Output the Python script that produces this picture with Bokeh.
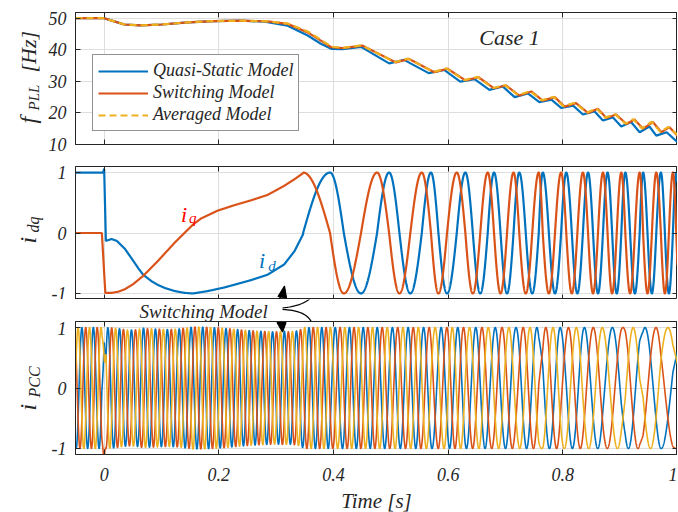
import numpy as np
from bokeh.plotting import figure
from bokeh.layouts import column, row
from bokeh.models import (Range1d, FixedTicker, LinearAxis, Label, Legend, LegendItem,
                          CustomJSTickFormatter, PolyAnnotation)
from bokeh.embed import file_html
from bokeh.resources import INLINE

# ---------------- data ----------------
x_ticks = [0, 0.2, 0.4, 0.6, 0.8, 1.0]
f_ticks = [10, 20, 30, 40, 50]
i_ticks = [-1, 0, 1]

# f_PLL, Quasi-Static Model
t_qs = [-0.05, 0.0, 0.012, 0.035, 0.064, 0.10, 0.146, 0.192, 0.239, 0.28, 0.32, 0.355, 0.378,
        0.396, 0.416, 0.448, 0.497, 0.523, 0.566, 0.593, 0.621, 0.646, 0.672, 0.695, 0.716,
        0.739, 0.759, 0.780, 0.797, 0.818, 0.835, 0.855, 0.870, 0.887, 0.902, 0.919, 0.934,
        0.951, 0.963, 0.981, 1.0]
f_qs = [50, 50, 49.3, 48.0, 47.7, 48.0, 48.7, 49.1, 49.2, 48.9, 47.6, 44.5, 41.9,
        40.3, 40.2, 40.9, 35.7, 36.8, 32.6, 33.6, 29.9, 30.7, 27.3, 28.4, 25.0,
        26.2, 23.4, 24.2, 21.6, 22.3, 19.5, 20.5, 17.6, 18.6, 15.7, 17.1, 13.9,
        15.7, 12.8, 13.9, 10.7]

# f_PLL, Switching Model
t_sw = [-0.05, 0.0, 0.012, 0.035, 0.064, 0.10, 0.146, 0.192, 0.239, 0.285, 0.32, 0.355, 0.378,
        0.396, 0.416, 0.451, 0.509, 0.532, 0.576, 0.599, 0.630, 0.653, 0.680, 0.701, 0.724,
        0.745, 0.765, 0.786, 0.803, 0.823, 0.844, 0.861, 0.876, 0.893, 0.911, 0.925, 0.940,
        0.957, 0.972, 0.986, 1.0]
f_sw = [50, 50, 49.3, 48.0, 47.7, 48.0, 48.7, 49.1, 49.2, 49.0, 48.2, 45.5, 42.9,
        40.8, 40.5, 41.3, 36.0, 37.1, 32.9, 34.0, 30.3, 31.3, 27.8, 28.7, 25.5,
        26.8, 23.9, 25.0, 22.0, 23.1, 20.0, 21.3, 18.4, 19.5, 16.5, 17.9, 15.0,
        17.1, 13.9, 15.5, 12.8]

# f_PLL, Averaged Model
t_av = [-0.05, 0.0, 0.012, 0.035, 0.064, 0.10, 0.146, 0.192, 0.239, 0.285, 0.32, 0.355, 0.378,
        0.396, 0.416, 0.449, 0.507, 0.530, 0.574, 0.597, 0.628, 0.651, 0.678, 0.699, 0.722,
        0.743, 0.763, 0.784, 0.801, 0.821, 0.842, 0.859, 0.874, 0.891, 0.909, 0.923, 0.938,
        0.955, 0.970, 0.984, 1.0]
f_av = [50, 50, 49.3, 48.0, 47.7, 48.0, 48.7, 49.1, 49.2, 49.0, 48.3, 45.8, 43.2,
        41.0, 40.6, 41.4, 36.1, 37.2, 33.0, 34.1, 30.4, 31.4, 27.9, 28.8, 25.6,
        26.9, 24.0, 25.1, 22.1, 23.2, 20.1, 21.4, 18.5, 19.6, 16.6, 18.0, 15.1,
        17.2, 14.0, 15.6, 13.0]

# i_dq (Switching Model), start-up part
t_id_early = [-0.05, -0.002, 0.0, 0.003, 0.006, 0.013, 0.022, 0.036, 0.05, 0.06, 0.068,
              0.083, 0.094, 0.106, 0.123, 0.140, 0.155, 0.181, 0.21, 0.256, 0.285,
              0.314, 0.332, 0.347]
id_early = [1.0, 1.0, 1.06, -0.13, -0.12, -0.10, -0.13, -0.26, -0.45, -0.59, -0.69,
            -0.80, -0.86, -0.91, -0.96, -0.99, -1.0, -0.96, -0.90, -0.78, -0.69,
            -0.52, -0.30, -0.02]
t_iq_early = [-0.05, -0.004, 0.002, 0.013, 0.025, 0.036, 0.05, 0.068, 0.094, 0.123,
              0.140, 0.155, 0.169, 0.198, 0.227, 0.256, 0.285, 0.314, 0.332, 0.347]
iq_early = [0.0, 0.0, -0.99, -0.99, -0.97, -0.93, -0.85, -0.71, -0.46, -0.16,
            0.0, 0.14, 0.24, 0.37, 0.46, 0.54, 0.63, 0.78, 0.89, 0.99]

# slip angle of the current vector (cycles): i_q peaks (x.25) and i_d peaks (integers)
t_slip = [0.347, 0.394, 0.418, 0.448, 0.476, 0.497, 0.515, 0.534, 0.554, 0.570, 0.583,
          0.598, 0.615, 0.630, 0.669, 0.680, 0.714, 0.724, 0.758, 0.765, 0.797, 0.806,
          0.835, 0.844, 0.870, 0.878, 0.902, 0.909, 0.934, 0.940, 0.963, 0.971, 0.992, 1.0]
slip_cyc = [0.25, 0, -0.25, -0.5, -0.75, -1, -1.25, -1.5, -1.75, -2, -2.25,
            -2.5, -2.75, -3, -3.75, -4, -4.75, -5, -5.75, -6, -6.75, -7,
            -7.75, -8, -8.75, -9, -9.75, -10, -10.75, -11, -11.75, -12, -12.75, -13.09]

f_grid = 50.0          # grid frequency of the dq reference frame
theta0 = -0.365        # initial angle of phase a (rad)

# ---------------- derived curves ----------------
t = np.linspace(-0.05, 1.0, 8001)
ang = 2 * np.pi * np.interp(t, t_slip, slip_cyc)
i_d = np.where(t < t_slip[0], np.interp(t, t_id_early, id_early), np.cos(ang))
i_q = np.where(t < t_slip[0], np.interp(t, t_iq_early, iq_early), np.sin(ang))
wt = 2 * np.pi * f_grid * t + theta0
i_a = i_d * np.cos(wt) - i_q * np.sin(wt)
i_b = i_d * np.cos(wt - 2 * np.pi / 3) - i_q * np.sin(wt - 2 * np.pi / 3)
i_c = i_d * np.cos(wt + 2 * np.pi / 3) - i_q * np.sin(wt + 2 * np.pi / 3)

# ---------------- styling ----------------
BLUE, ORANGE, YELLOW = "#0072BD", "#D95319", "#EDB120"
AX = "#262626"
FONT = "Liberation Serif"
FRAME_W = 602
LEFT_W = 44                 # width of the y-label strip
MAIN_BL = 31                # left border of the main panels
num_fmt = CustomJSTickFormatter(code="return String(Math.round(tick*10)/10)")
blank_fmt = CustomJSTickFormatter(code="return ''")


def style_axis(ax, ticks, labels, standoff=10):
    ax.ticker = FixedTicker(ticks=ticks)
    ax.major_tick_in = 5
    ax.major_tick_out = 0
    ax.minor_tick_line_color = None
    ax.axis_line_color = AX
    ax.major_tick_line_color = AX
    if labels:
        ax.formatter = num_fmt
        ax.major_label_text_font = FONT
        ax.major_label_text_font_style = "italic"
        ax.major_label_text_font_size = "18px"
        ax.major_label_text_color = AX
        ax.major_label_standoff = standoff
    else:
        ax.formatter = blank_fmt
        ax.major_label_text_font_size = "0px"
        ax.major_label_standoff = 0


def make_fig(yr, yticks, fh, top, bottom, xlabels):
    p = figure(frame_width=FRAME_W, frame_height=fh, x_range=Range1d(-0.05, 1.0),
               y_range=Range1d(*yr), output_backend="svg", toolbar_location=None,
               min_border_left=MAIN_BL, min_border_right=0, min_border_top=top,
               min_border_bottom=bottom)
    p.outline_line_color = AX
    xb = p.below[0]
    yl = p.left[0]
    style_axis(xb, x_ticks, xlabels, standoff=13)
    style_axis(yl, yticks, True, standoff=9)
    top_ax = LinearAxis()
    style_axis(top_ax, x_ticks, False)
    right_ax = LinearAxis()
    style_axis(right_ax, yticks, False)
    p.add_layout(top_ax, "above")
    p.add_layout(right_ax, "right")
    p.grid.grid_line_color = "#DEDEDE"
    p.grid.grid_line_width = 1
    return p, xb


def blank_fig(w, h):
    p = figure(width=w, height=h, x_range=Range1d(0, 1), y_range=Range1d(0, 1),
               output_backend="svg", toolbar_location=None, min_border=0,
               x_axis_location=None, y_axis_location=None)
    p.grid.visible = False
    p.outline_line_color = None
    return p


def rot_label(p, text, x, y, size, color=AX):
    p.add_layout(Label(x=x, y=y, x_units="screen", y_units="screen", text=text,
                       angle=np.pi / 2, text_font=FONT, text_font_style="italic",
                       text_font_size=size, text_color=color, text_align="left",
                       text_baseline="alphabetic"))


def txt(p, text, x, y, size, color=AX, units="data", align="left", baseline="alphabetic"):
    p.add_layout(Label(x=x, y=y, x_units=units, y_units=units, text=text,
                       text_font=FONT, text_font_style="italic", text_font_size=size,
                       text_color=color, text_align=align, text_baseline=baseline))


# ---------------- panel 1: f_PLL ----------------
p1, _ = make_fig((10, 51.8), f_ticks, 132, 12, 11, False)
r_qs = p1.line(t_qs, f_qs, line_color=BLUE, line_width=2.2)
r_sw = p1.line(t_sw, f_sw, line_color=ORANGE, line_width=2.2)
r_av = p1.line(t_av, f_av, line_color=YELLOW, line_width=2.2, line_dash="7 4")
leg = Legend(items=[LegendItem(label="Quasi-Static Model", renderers=[r_qs]),
                    LegendItem(label="Switching Model", renderers=[r_sw]),
                    LegendItem(label="Averaged Model", renderers=[r_av])],
             location=(17, 13), label_text_font=FONT, label_text_font_style="italic",
             label_text_font_size="18px", label_text_color=AX, glyph_width=50,
             glyph_height=20, label_height=21, spacing=1, padding=5, margin=0,
             label_standoff=5, border_line_color=AX, border_line_width=1,
             background_fill_color="white", background_fill_alpha=1)
p1.add_layout(leg)
txt(p1, "Case 1", 0.707, 43.95, "22px", align="center", baseline="middle")

# ---------------- panel 2: i_dq ----------------
p2, _ = make_fig((-1.1, 1.1), i_ticks, 133, 11, 0, False)
p2.line(t, i_d, line_color=BLUE, line_width=2.2)
p2.line(t, i_q, line_color=ORANGE, line_width=2.2)
txt(p2, "i", 0.134, 0.31, "22px", color="#FF0000")
txt(p2, "q", 0.148, 0.256, "15px", color="#FF0000")
txt(p2, "i", 0.270, -0.463, "22px", color=BLUE)
txt(p2, "d", 0.286, -0.545, "15px", color=BLUE)

# ---------------- separator strip with the "Switching Model" note ----------------
SEP_TOP, SEP_H = 299, 22
sep = blank_fig(MAIN_BL + FRAME_W, SEP_H)
txt(sep, "Switching Model", 108 - LEFT_W, SEP_TOP + SEP_H - 311, "19px", units="screen")

# ---------------- panel 3: i_PCC ----------------
p3, xb3 = make_fig((-1.1, 1.1), i_ticks, 133, 0, 0, True)
p3.line(t, i_a, line_color=BLUE, line_width=1.6)
p3.line(t, i_b, line_color=ORANGE, line_width=1.6)
p3.line(t, i_c, line_color=YELLOW, line_width=1.6)
xb3.axis_label = "Time [s]"
xb3.axis_label_text_font = FONT
xb3.axis_label_text_font_style = "italic"
xb3.axis_label_text_font_size = "21px"
xb3.axis_label_text_color = AX
xb3.axis_label_standoff = 5

# ---------------- y-label strip ----------------
TOTAL_H = 510
left = blank_fig(LEFT_W, TOTAL_H)
rot_label(left, "f", 27, TOTAL_H - 123, "24px")
rot_label(left, "PLL", 33, TOTAL_H - 110, "15px")
rot_label(left, "[Hz]", 28, TOTAL_H - 72, "22px")
rot_label(left, "i", 27, TOTAL_H - 243, "24px")
rot_label(left, "dq", 33, TOTAL_H - 232, "16px")
rot_label(left, "i", 27, TOTAL_H - 410, "24px")
rot_label(left, "PCC", 34, TOTAL_H - 397, "16px")

# ---------------- curved pointers (page pixel geometry) ----------------
FRAME_LEFT = LEFT_W + MAIN_BL
PANELS = {"p2": (p2, FRAME_LEFT, SEP_TOP), "p3": (p3, FRAME_LEFT, SEP_TOP + SEP_H + 133),
          "sep": (sep, LEFT_W, SEP_TOP + SEP_H)}


def bez(p0, pc, p2_, n=20):
    s = np.linspace(0, 1, n)
    x = (1 - s) ** 2 * p0[0] + 2 * (1 - s) * s * pc[0] + s ** 2 * p2_[0]
    y = (1 - s) ** 2 * p0[1] + 2 * (1 - s) * s * pc[1] + s ** 2 * p2_[1]
    return list(x), list(y)


def poly(key, xs, ys, fill=False):
    fig, x0, yb = PANELS[key]
    sx = [float(v - x0) for v in xs]
    sy = [float(yb - v) for v in ys]
    if not fill:
        sx = sx + sx[::-1]
        sy = sy + sy[::-1]
    fig.add_layout(PolyAnnotation(xs=sx, ys=sy, xs_units="screen", ys_units="screen",
                                  line_color="black", line_width=1.2, line_alpha=1,
                                  fill_color="black" if fill else None,
                                  fill_alpha=1 if fill else 0))


ux, uy = bez((251, 307.5), (274, 305), (281.5, 295))
lx, ly = bez((251, 309), (276, 310), (280.5, 323))
for key in ("p2", "sep"):
    poly(key, ux, uy)
for key in ("sep", "p3"):
    poly(key, lx, ly)
poly("p2", [277.5, 284, 286], [296, 285.5, 297.5], fill=True)
poly("p3", [276.5, 282, 285.5], [322, 331.5, 322], fill=True)

layout = row(left, column(p1, p2, sep, p3, spacing=0), spacing=0)
open("out.html", "w").write(file_html(layout, INLINE))
